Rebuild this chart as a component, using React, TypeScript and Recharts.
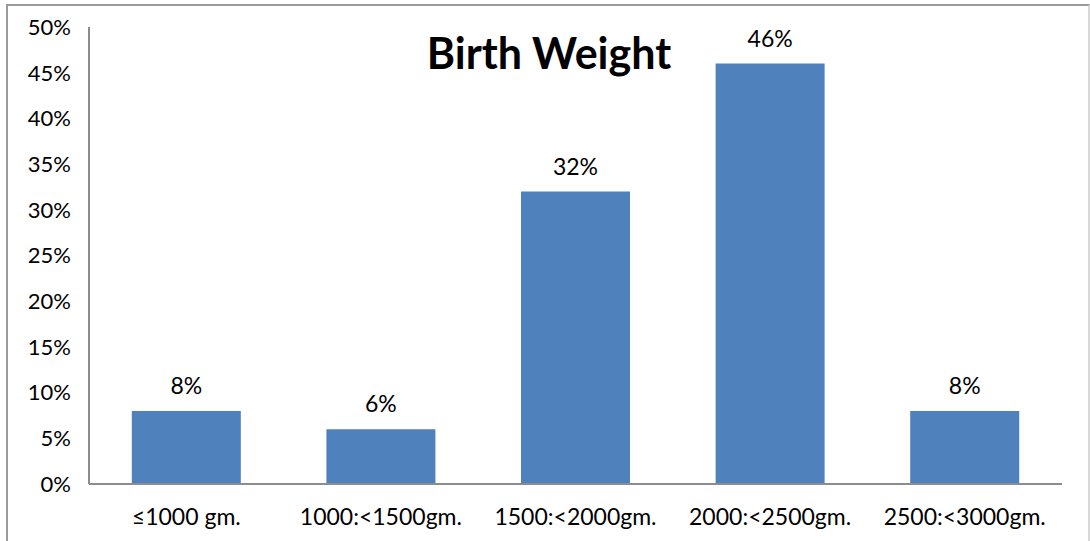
import React from 'react';
import { BarChart, Bar, XAxis, YAxis, LabelList } from 'recharts';

const weightBands = ['≤1000 gm.', '1000:<1500gm.', '1500:<2000gm.', '2000:<2500gm.', '2500:<3000gm.'];
const shares = [8, 6, 32, 46, 8];
const yTicks = [0, 5, 10, 15, 20, 25, 30, 35, 40, 45, 50];

const data = weightBands.map((band, i) => ({ band, share: shares[i] }));

const FONT = 'Lato, "Open Sans", sans-serif';

export default function App() {
    return (
        <div style={{ position: 'absolute', left: 0, top: 0, width: 1090, height: 541, background: '#fff', overflow: 'hidden', fontFamily: FONT }}>
            {/* outer frame */}
            <div style={{ position: 'absolute', left: 6, top: 4, width: 1080, height: 560, border: '2px solid #9a9a9a', borderRightColor: '#d8d8d8' }} />
            <BarChart
                width={1090}
                height={541}
                data={data}
                margin={{ top: 27, right: 28, left: 0, bottom: 0 }}
                barCategoryGap="22%"
                style={{ position: 'absolute', left: 0, top: 0 }}
            >
                <text x={549} y={58} textAnchor="middle" dominantBaseline="middle" fontSize={43} fontWeight="bold" fill="#000" fontFamily={FONT}>
                    Birth Weight
                </text>
                <XAxis
                    dataKey="band"
                    height={57}
                    tickLine={false}
                    tickSize={0}
                    tickMargin={25}
                    axisLine={{ stroke: '#8c8c8c', strokeWidth: 2 }}
                    tick={{ fontSize: 23, fill: '#000', fontFamily: FONT }}
                    interval={0}
                />
                <YAxis
                    width={89}
                    domain={[0, 50]}
                    ticks={yTicks}
                    tickFormatter={(v: number) => `${v}%`}
                    tickLine={false}
                    tickSize={0}
                    tickMargin={18}
                    axisLine={{ stroke: '#8c8c8c', strokeWidth: 2 }}
                    tick={{ fontSize: 22, fill: '#000', fontFamily: FONT }}
                    interval={0}
                />
                <Bar dataKey="share" fill="#4F81BD" isAnimationActive={false}>
                    <LabelList
                        dataKey="share"
                        position="top"
                        offset={17}
                        formatter={(v: number) => `${v}%`}
                        style={{ fontSize: 23, fill: '#000', fontFamily: FONT }}
                    />
                </Bar>
            </BarChart>
        </div>
    );
}
